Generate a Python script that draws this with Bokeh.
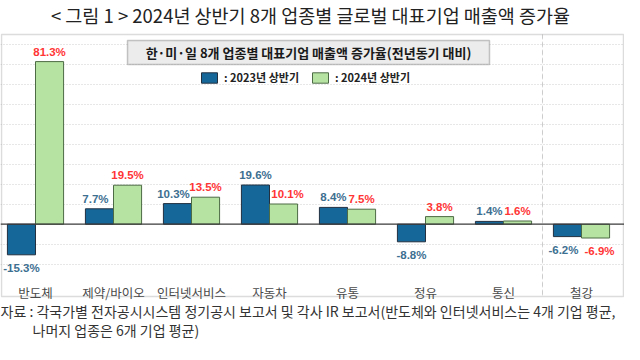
from bokeh.plotting import figure
from bokeh.models import (ColumnDataSource, Range1d, FixedTicker, Span, BoxAnnotation,
                          Label, Legend, LegendItem)
from bokeh.core.properties import value
from bokeh.transform import dodge
from bokeh.embed import file_html
from bokeh.resources import INLINE

# ---------------- data ----------------
categories = ["반도체", "제약/바이오", "인터넷서비스", "자동차", "유통", "정유", "통신", "철강"]
growth_2023 = [-15.3, 7.7, 10.3, 19.6, 8.4, -8.8, 1.4, -6.2]
growth_2024 = [81.3, 19.5, 13.5, 10.1, 7.5, 3.8, 1.6, -6.9]
series_names = [": 2023년 상반기", ": 2024년 상반기"]
grid_ticks = [-20, -10, 10, 20, 30, 40, 50, 60, 70, 80, 90]

title_text = "< 그림 1 > 2024년 상반기 8개 업종별 글로벌 대표기업 매출액 증가율"
inner_title = "한·미·일 8개 업종별 대표기업 매출액 증가율(전년동기 대비)"
note1 = "자료 : 각국가별 전자공시시스템 정기공시 보고서 및 각사 IR 보고서(반도체와 인터넷서비스는 4개 기업 평균,"
note2 = "나머지 업종은 6개 기업 평균)"

# ---------------- layout (pixel geometry) ----------------
W, H = 624, 344
X0_PX, X_STEP = 35.0, 78.0        # px of category 0, px per category
Y0_PX, Y_STEP = 223.7, 2.0        # px (from top) of value 0, px per 1 %

def ux(px):
    return (px - X0_PX) / X_STEP

def vy(py):
    return (Y0_PX - py) / Y_STEP

def nudge(own, other, sign):
    # push a label sideways when the neighbouring bar (or label) would collide with it
    if own >= 0 and other > own + 2:
        return 4 * sign
    if own < 0 and other < 0 and abs(own - other) < 3:
        return 4 * sign
    return 0

idx = list(range(len(categories)))
src = ColumnDataSource(dict(
    x=idx,
    a=growth_2023,
    b=growth_2024,
    ta=[f"{v:.1f}%" for v in growth_2023],
    tb=[f"{v:.1f}%" for v in growth_2024],
    oa=[-10 if v >= 0 else 13 for v in growth_2023],
    ob=[-10 if v >= 0 else 13 for v in growth_2024],
    xa=[nudge(a, b, -1) for a, b in zip(growth_2023, growth_2024)],
    xb=[nudge(b, a, 1) for a, b in zip(growth_2023, growth_2024)],
))

p = figure(width=W, height=H, output_backend="svg", toolbar_location=None,
           x_range=Range1d(ux(0), ux(W)), y_range=Range1d(vy(H), vy(0)),
           min_border=0, min_border_left=0, min_border_right=0,
           min_border_top=0, min_border_bottom=0)
p.title.visible = False
p.outline_line_color = None
p.background_fill_color = "white"
p.border_fill_color = "white"

# axes
p.yaxis.visible = False
p.xaxis.fixed_location = vy(274)
p.xaxis.ticker = FixedTicker(ticks=idx)
p.xaxis.major_label_overrides = {i: c for i, c in zip(idx, categories)}
p.xaxis.axis_line_color = None
p.xaxis.major_tick_line_color = None
p.xaxis.minor_tick_line_color = None
p.xaxis.major_label_standoff = 2
p.xaxis.major_label_text_font = "Noto Sans CJK KR"
p.xaxis.major_label_text_font_size = "12.5px"
p.xaxis.major_label_text_color = "#4a4a4a"

# grid
p.xgrid.visible = False
p.ygrid.ticker = FixedTicker(ticks=grid_ticks)
p.ygrid.grid_line_color = "#cfcfcf"
p.ygrid.grid_line_dash = "1 2"
p.ygrid.grid_line_width = 1

# outer box
p.add_layout(BoxAnnotation(left=ux(1), right=ux(623), top=vy(34), bottom=vy(296),
                           fill_alpha=0, line_color="#8a8a8a", line_width=1.5,
                           level="underlay"))
# dashed separator between 통신 and 철강
p.add_layout(BoxAnnotation(left=6.5, right=6.5, top=vy(34), bottom=vy(296),
                           fill_alpha=0, line_color="#9a9a9a", line_width=1,
                           line_dash="5 3", level="underlay"))
# zero line
p.add_layout(Span(location=0, dimension="width", line_color="#3a3a3a", line_width=1.2))

# bars
r23 = p.vbar(x=dodge("x", -0.18, range=p.x_range), top="a", bottom=0, width=0.36,
             source=src, fill_color="#15679a", line_color="#223040", line_width=1)
r24 = p.vbar(x=dodge("x", 0.18, range=p.x_range), top="b", bottom=0, width=0.36,
             source=src, fill_color="#b6e3a2", line_color="#4d6b45", line_width=1)

# value labels
p.text(x=dodge("x", -0.18, range=p.x_range), y="a", text="ta", y_offset="oa",
       x_offset="xa", source=src,
       text_align="center", text_baseline="middle", text_font_size="11.5px",
       text_font_style="bold", text_color="#3d6f91", text_font=value("Liberation Sans"))
p.text(x=dodge("x", 0.18, range=p.x_range), y="b", text="tb", y_offset="ob",
       x_offset="xb", source=src,
       text_align="center", text_baseline="middle", text_font_size="11.5px",
       text_font_style="bold", text_color="#ff3535", text_font=value("Liberation Sans"))

# inner title box
p.add_layout(BoxAnnotation(left=ux(127), right=ux(489), top=vy(40), bottom=vy(64),
                           fill_color="#ececec", fill_alpha=1, line_color="#4a4a4a",
                           line_width=1.5))
p.add_layout(Label(x=ux(308), y=vy(52), text=inner_title, text_align="center",
                   text_baseline="middle", text_font="Noto Sans CJK KR",
                   text_font_style="bold", text_font_size="13px", text_color="#1a1a1a"))

# legend
legend = Legend(items=[LegendItem(label=series_names[0], renderers=[r23]),
                       LegendItem(label=series_names[1], renderers=[r24])],
                location=(199, H - 85), orientation="horizontal",
                glyph_width=20, glyph_height=13, label_height=13, label_standoff=5,
                spacing=11, padding=0, margin=0,
                border_line_color=None, background_fill_alpha=0,
                label_text_font="Noto Sans CJK KR", label_text_font_style="bold",
                label_text_font_size="11px", label_text_color="#222222")
p.add_layout(legend)

# main title
p.add_layout(Label(x=ux(310), y=vy(14), text=title_text, text_align="center",
                   text_baseline="middle", text_font="Noto Sans CJK KR",
                   text_font_size="18.5px", text_color="#222222"))

# source notes
p.add_layout(Label(x=ux(0), y=vy(310), text=note1, text_align="left",
                   text_baseline="middle", text_font="Noto Sans CJK KR",
                   text_font_size="14px", text_color="#333333"))
p.add_layout(Label(x=ux(32), y=vy(329), text=note2, text_align="left",
                   text_baseline="middle", text_font="Noto Sans CJK KR",
                   text_font_size="14px", text_color="#333333"))

open("out.html", "w").write(file_html(p, INLINE))
